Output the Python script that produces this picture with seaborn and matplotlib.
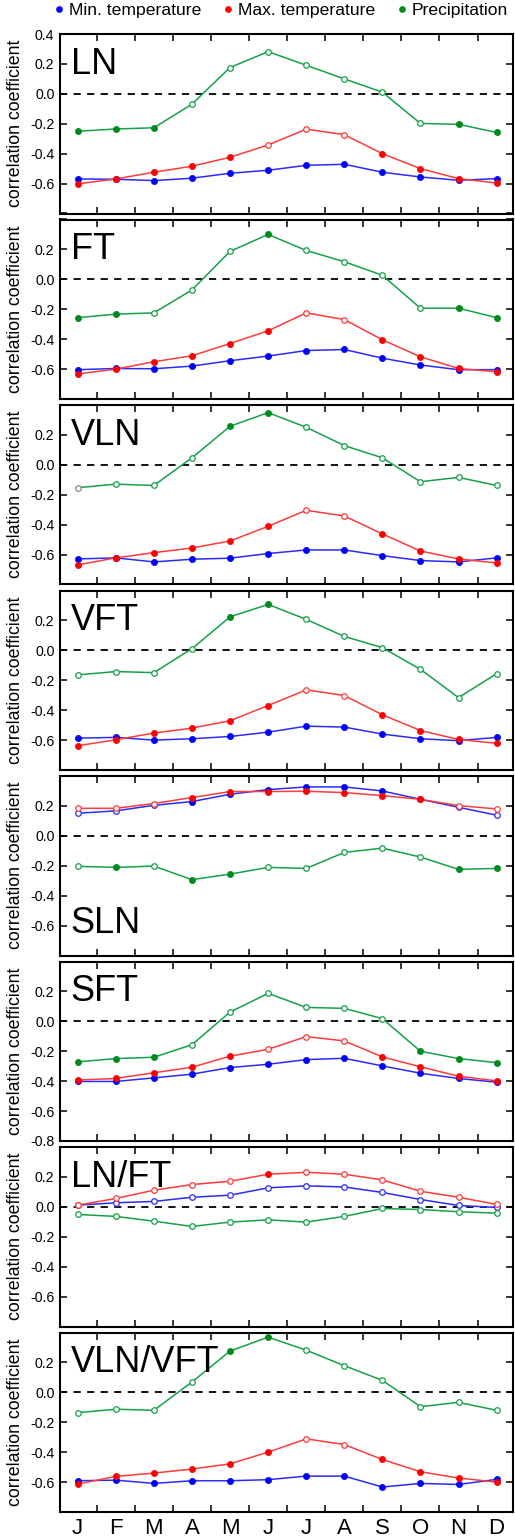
import numpy as np
import pandas as pd
import seaborn as sns
import matplotlib.pyplot as plt
from matplotlib.lines import Line2D
from matplotlib.ticker import FixedLocator, FixedFormatter

# === Data ===
months = ["J", "F", "M", "A", "M", "J", "J", "A", "S", "O", "N", "D"]
panel_names = ["LN", "FT", "VLN", "VFT", "SLN", "SFT", "LN/FT", "VLN/VFT"]

# minimum temperature
tmin_ln = [-0.569, -0.571, -0.580, -0.564, -0.531, -0.511, -0.478, -0.471, -0.524, -0.556, -0.578, -0.567]
tmin_ft = [-0.604, -0.596, -0.598, -0.580, -0.544, -0.513, -0.476, -0.469, -0.527, -0.573, -0.604, -0.604]
tmin_vln = [-0.629, -0.622, -0.649, -0.631, -0.624, -0.593, -0.569, -0.569, -0.607, -0.640, -0.649, -0.622]
tmin_vft = [-0.587, -0.582, -0.600, -0.591, -0.576, -0.547, -0.507, -0.513, -0.560, -0.591, -0.604, -0.582]
tmin_sln = [0.151, 0.167, 0.204, 0.229, 0.278, 0.309, 0.327, 0.327, 0.300, 0.244, 0.191, 0.138]
tmin_sft = [-0.402, -0.402, -0.378, -0.353, -0.309, -0.287, -0.256, -0.247, -0.298, -0.347, -0.382, -0.407]
tmin_lnft = [0.011, 0.027, 0.036, 0.064, 0.078, 0.127, 0.140, 0.133, 0.096, 0.049, 0.009, -0.004]
tmin_vlnvft = [-0.591, -0.587, -0.609, -0.591, -0.591, -0.584, -0.560, -0.560, -0.633, -0.609, -0.616, -0.582]

# maximum temperature
tmax_ln = [-0.602, -0.569, -0.524, -0.484, -0.424, -0.342, -0.236, -0.273, -0.400, -0.500, -0.567, -0.596]
tmax_ft = [-0.633, -0.600, -0.551, -0.511, -0.429, -0.344, -0.224, -0.269, -0.404, -0.518, -0.596, -0.618]
tmax_vln = [-0.669, -0.622, -0.587, -0.556, -0.509, -0.411, -0.304, -0.342, -0.462, -0.576, -0.629, -0.656]
tmax_vft = [-0.638, -0.598, -0.553, -0.520, -0.471, -0.369, -0.264, -0.302, -0.431, -0.536, -0.596, -0.622]
tmax_sln = [0.184, 0.184, 0.216, 0.256, 0.296, 0.296, 0.298, 0.289, 0.269, 0.244, 0.202, 0.180]
tmax_sft = [-0.393, -0.382, -0.344, -0.307, -0.233, -0.187, -0.102, -0.131, -0.238, -0.304, -0.367, -0.398]
tmax_lnft = [0.011, 0.056, 0.111, 0.149, 0.171, 0.218, 0.231, 0.218, 0.180, 0.104, 0.064, 0.016]
tmax_vlnvft = [-0.613, -0.562, -0.540, -0.513, -0.478, -0.400, -0.311, -0.349, -0.449, -0.531, -0.573, -0.600]

# precipitation
prec_ln = [-0.250, -0.235, -0.227, -0.069, 0.176, 0.282, 0.191, 0.100, 0.011, -0.198, -0.204, -0.258]
prec_ft = [-0.256, -0.233, -0.224, -0.071, 0.187, 0.300, 0.193, 0.118, 0.027, -0.193, -0.193, -0.256]
prec_vln = [-0.153, -0.129, -0.138, 0.047, 0.258, 0.349, 0.251, 0.129, 0.047, -0.113, -0.084, -0.138]
prec_vft = [-0.164, -0.142, -0.149, 0.011, 0.224, 0.307, 0.207, 0.093, 0.018, -0.127, -0.316, -0.156]
prec_sln = [-0.204, -0.211, -0.202, -0.293, -0.256, -0.211, -0.218, -0.111, -0.082, -0.142, -0.224, -0.218]
prec_sft = [-0.271, -0.249, -0.240, -0.156, 0.062, 0.187, 0.093, 0.087, 0.018, -0.200, -0.249, -0.276]
prec_lnft = [-0.051, -0.064, -0.096, -0.131, -0.102, -0.087, -0.102, -0.064, -0.011, -0.018, -0.033, -0.042]
prec_vlnvft = [-0.136, -0.113, -0.120, 0.069, 0.276, 0.369, 0.282, 0.178, 0.080, -0.096, -0.067, -0.120]

# marker style per month: f = filled (significant), o = open, g = open grey
tmin_sig = ["ffffffffffff", "ffffffffffff", "ffffffffffff", "ffffffffffff",
            "oooffffffooo", "ffffffffffff", "oooooooooooo", "ffffffffffff"]
tmax_sig = ["fffffoooffff", "ffffffooffff", "ffffffooffff", "ffffffooffff",
            "ooofffffffoo", "fffffoooffff", "ooooofoooooo", "ffffffooffff"]
prec_sig = ["fffoooooooff", "ffooofooooff", "goooffoooooo", "ooooffoooooo",
            "ofoffoooooff", "fffoooooofff", "oooooooooooo", "ooooffoooooo"]

tmin_all = [tmin_ln, tmin_ft, tmin_vln, tmin_vft, tmin_sln, tmin_sft, tmin_lnft, tmin_vlnvft]
tmax_all = [tmax_ln, tmax_ft, tmax_vln, tmax_vft, tmax_sln, tmax_sft, tmax_lnft, tmax_vlnvft]
prec_all = [prec_ln, prec_ft, prec_vln, prec_vft, prec_sln, prec_sft, prec_lnft, prec_vlnvft]

series_names = ["Min. temperature", "Max. temperature", "Precipitation"]
line_colors = {"Min. temperature": "#2b2bff", "Max. temperature": "#ff3b3b", "Precipitation": "#17a04a"}
fill_colors = {"Min. temperature": "#0000ff", "Max. temperature": "#ff0000", "Precipitation": "#008a1e"}

# === Style ===
sns.set_style("ticks", {"text.color": "black", "axes.labelcolor": "black",
                        "xtick.color": "black", "ytick.color": "black",
                        "axes.edgecolor": "black"})
plt.rcParams["font.family"] = ["Liberation Sans", "DejaVu Sans"]
plt.rcParams["axes.unicode_minus"] = False

fig = plt.figure(figsize=(5.15, 15.37), dpi=100)
W, H = 515.0, 1537.0
ax_left, ax_right = 60.0, 513.0
ax_top, ax_bottom = 34.0, 1512.0
gap = 6.0
ph = (ax_bottom - ax_top - 7 * gap) / 8

yticks = [-0.8, -0.6, -0.4, -0.2, 0.0, 0.2, 0.4]
x = np.arange(12)

for i, name in enumerate(panel_names):
    top = ax_top + i * (ph + gap)
    ax = fig.add_axes([ax_left / W, 1 - (top + ph) / H, (ax_right - ax_left) / W, ph / H])

    df = pd.concat([
        pd.DataFrame({"month": x, "value": tmin_all[i], "series": series_names[0], "sig": list(tmin_sig[i])}),
        pd.DataFrame({"month": x, "value": tmax_all[i], "series": series_names[1], "sig": list(tmax_sig[i])}),
        pd.DataFrame({"month": x, "value": prec_all[i], "series": series_names[2], "sig": list(prec_sig[i])}),
    ], ignore_index=True)

    ax.axhline(0, color="black", lw=1.3, ls=(0, (4, 3.5)), zorder=1)
    sns.lineplot(data=df, x="month", y="value", hue="series", palette=line_colors,
                 lw=1.1, legend=False, ax=ax, zorder=2)

    for s in series_names:
        d = df[df["series"] == s]
        filled = d[d["sig"] == "f"]
        opened = d[d["sig"] == "o"]
        grey = d[d["sig"] == "g"]
        ax.scatter(filled["month"], filled["value"], s=20, color=fill_colors[s],
                   edgecolors=fill_colors[s], linewidths=0.5, zorder=4, clip_on=False)
        ax.scatter(opened["month"], opened["value"], s=16, facecolors="white",
                   edgecolors=line_colors[s], linewidths=0.9, zorder=4, clip_on=False)
        ax.scatter(grey["month"], grey["value"], s=16, facecolors="white",
                   edgecolors="#888888", linewidths=0.9, zorder=4, clip_on=False)

    ax.set_xlim(-0.465, 11.43)
    ax.set_ylim(-0.8, 0.4)

    # x: month labels without marks, boundary marks as minor ticks
    ax.set_xticks(x)
    ax.set_xticks(np.arange(0.5, 11, 1), minor=True)
    ax.tick_params(axis="x", which="major", length=0, pad=4, labelsize=16)
    ax.tick_params(axis="x", which="minor", direction="in", length=5, width=1.1,
                   top=True, bottom=True)
    if i == len(panel_names) - 1:
        ax.set_xticklabels(months)
    else:
        ax.set_xticklabels([])

    # y ticks and labels
    labels = ["%.1f" % t for t in yticks]
    shown = ["-0.6", "-0.4", "-0.2", "0.0", "0.2"]
    if i == 0:
        shown = shown + ["0.4"]
    if name == "SFT":
        shown = shown + ["-0.8"]
    labels = [l if l in shown else "" for l in labels]
    ax.yaxis.set_major_locator(FixedLocator(yticks))
    ax.yaxis.set_major_formatter(FixedFormatter(labels))
    ax.tick_params(axis="y", direction="in", length=5, width=1.1, right=True,
                   labelsize=10.2, pad=4)

    ax.set_xlabel("")
    ax.set_ylabel("correlation coefficient", fontsize=12.8)
    ax.yaxis.set_label_coords(-0.08, 0.5)

    for sp in ax.spines.values():
        sp.set_visible(True)
        sp.set_linewidth(1.5)
        sp.set_color("black")

    if name == "SLN":
        ax.text(0.024, 0.128, name, transform=ax.transAxes, fontsize=26,
                ha="left", va="baseline", color="black")
    else:
        ax.text(0.024, 0.928, name, transform=ax.transAxes, fontsize=26,
                ha="left", va="top", color="black")

handles = [Line2D([], [], ls="none", marker="o", markersize=3.8,
                  color=fill_colors[s], label=s) for s in series_names]
fig.legend(handles=handles, loc="upper left", bbox_to_anchor=(52 / W, 1.0 - 1 / H),
           ncol=3, frameon=False, fontsize=12.6, handlelength=0.6, handletextpad=0.25,
           columnspacing=1.25, borderaxespad=0, borderpad=0.1)

fig.savefig("out.png", dpi=100)
